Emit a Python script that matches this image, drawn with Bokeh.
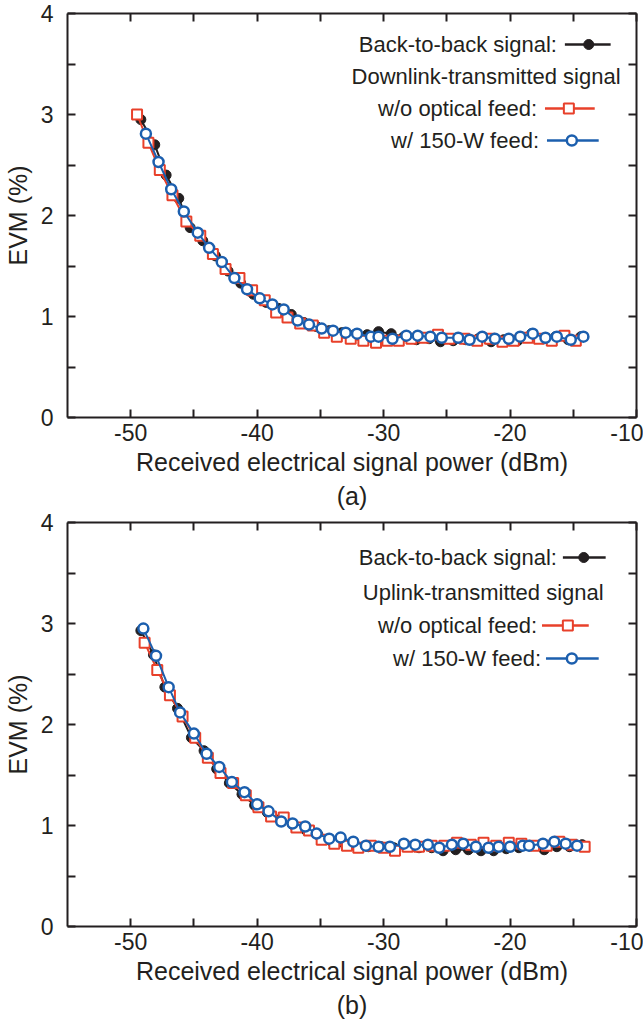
from bokeh.plotting import figure
from bokeh.layouts import column
from bokeh.models import Range1d, LinearAxis, FixedTicker, Title, Label
from bokeh.embed import file_html
from bokeh.resources import INLINE

# ---------------- data ----------------
a_b2b_x = [-49.2,-48.1,-47.2,-46.2,-45.3,-44.3,-43.3,-42.3,-41.3,-40.3,-39.3,-38.3,-37.3,-36.3,-35.3,-34.3,-33.3,-32.3,-31.3,-30.4,-29.4,-28.4,-27.4,-26.4,-25.5,-24.5,-23.5,-22.5,-21.5,-20.5,-19.4,-18.3,-17.4,-16.4,-15.4,-14.4]
a_b2b_y = [2.95,2.70,2.40,2.17,1.88,1.75,1.60,1.45,1.33,1.22,1.14,1.08,1.02,0.94,0.90,0.86,0.84,0.82,0.82,0.85,0.83,0.80,0.77,0.78,0.75,0.76,0.77,0.78,0.75,0.77,0.76,0.83,0.78,0.80,0.77,0.80]
a_red_x = [-49.5,-48.6,-47.7,-46.7,-45.6,-44.5,-43.5,-42.5,-41.4,-40.4,-39.4,-38.5,-37.6,-36.6,-35.6,-34.7,-33.7,-32.6,-31.6,-30.6,-29.7,-28.8,-27.8,-26.8,-25.7,-24.8,-23.6,-22.6,-21.6,-20.6,-19.7,-18.6,-17.7,-16.7,-15.7,-14.8]
a_red_y = [3.00,2.72,2.45,2.20,1.94,1.80,1.62,1.47,1.38,1.26,1.16,1.04,0.99,0.93,0.91,0.84,0.80,0.78,0.76,0.74,0.76,0.76,0.78,0.79,0.82,0.78,0.78,0.76,0.78,0.75,0.76,0.79,0.78,0.76,0.81,0.76]
a_blue_x = [-48.8,-47.8,-46.8,-45.8,-44.7,-43.8,-42.8,-41.8,-40.8,-39.8,-38.8,-37.9,-36.8,-35.9,-34.9,-34.0,-33.0,-32.1,-31.0,-30.4,-29.3,-28.2,-27.3,-26.3,-25.4,-24.1,-23.2,-22.2,-21.2,-20.1,-19.2,-18.2,-17.2,-16.3,-15.2,-14.2]
a_blue_y = [2.81,2.53,2.26,2.04,1.83,1.68,1.54,1.38,1.27,1.18,1.12,1.07,0.96,0.92,0.88,0.86,0.84,0.83,0.80,0.80,0.78,0.81,0.81,0.80,0.79,0.79,0.77,0.80,0.78,0.78,0.80,0.83,0.79,0.80,0.77,0.80]

b_b2b_x = [-49.2,-48.2,-47.3,-46.3,-45.2,-44.2,-43.2,-42.2,-41.2,-40.2,-39.2,-38.2,-37.2,-36.2,-35.2,-34.2,-33.2,-32.2,-31.2,-30.2,-29.2,-28.2,-27.2,-26.2,-25.3,-24.3,-23.3,-22.3,-21.3,-20.3,-19.3,-18.3,-17.3,-16.3,-15.3,-14.3]
b_b2b_y = [2.93,2.69,2.37,2.16,1.87,1.74,1.56,1.42,1.31,1.20,1.13,1.06,1.01,0.96,0.91,0.85,0.83,0.80,0.79,0.79,0.78,0.80,0.78,0.78,0.75,0.76,0.76,0.75,0.75,0.77,0.78,0.80,0.76,0.79,0.79,0.81]
b_red_x = [-48.9,-47.9,-46.9,-45.9,-44.9,-43.9,-42.9,-41.9,-40.9,-39.9,-38.9,-37.9,-36.9,-35.9,-34.9,-33.9,-32.9,-32.0,-31.0,-30.0,-29.1,-28.1,-27.2,-26.2,-25.2,-24.2,-23.1,-22.1,-21.1,-20.1,-19.1,-18.1,-17.1,-16.1,-15.1,-14.1]
b_red_y = [2.81,2.54,2.29,2.08,1.87,1.67,1.52,1.42,1.30,1.18,1.09,1.08,0.98,0.95,0.86,0.82,0.80,0.78,0.80,0.78,0.75,0.79,0.79,0.80,0.80,0.83,0.81,0.83,0.80,0.83,0.82,0.80,0.80,0.84,0.81,0.79]
b_blue_x = [-49.0,-48.0,-47.0,-46.1,-45.0,-44.0,-43.0,-42.0,-41.0,-40.0,-39.1,-38.1,-37.2,-36.2,-35.3,-34.3,-33.4,-32.4,-31.4,-30.4,-29.5,-28.4,-27.5,-26.5,-25.6,-24.6,-23.7,-22.7,-21.7,-20.9,-20.0,-19.0,-18.5,-17.4,-16.5,-15.6,-14.7]
b_blue_y = [2.95,2.68,2.37,2.12,1.91,1.71,1.58,1.43,1.33,1.21,1.14,1.04,1.02,0.99,0.92,0.87,0.88,0.84,0.80,0.79,0.79,0.82,0.81,0.81,0.78,0.81,0.82,0.79,0.78,0.79,0.79,0.80,0.80,0.82,0.84,0.82,0.80]

x_major = [-50, -40, -30, -20, -10]
x_major_labels = ["-50", "-40", "-30", "-20", "-10"]
x_minor = [-45, -35, -25, -15]
y_major = [0, 1, 2, 3, 4]
y_minor = [0.5, 1.5, 2.5, 3.5]

x_title = "Received electrical signal power (dBm)"
y_title = "EVM (%)"
leg_b2b = "Back-to-back signal:"
leg_wo = "w/o optical feed:"
leg_w = "w/ 150-W feed:"

INK = "#231f20"
RED = "#e8402a"
BLUE = "#1c5fae"
FONT = "Liberation Sans"


def make_panel(tag, header, b2b, red, blue, top_border, fig_height, leg_rows):
    p = figure(width=643, height=fig_height, output_backend="svg", toolbar_location=None,
               x_range=Range1d(-55, -10), y_range=Range1d(0, 4),
               min_border_left=64, min_border_right=7, min_border_top=top_border,
               min_border_bottom=10)
    p.xgrid.visible = False
    p.ygrid.visible = False
    p.outline_line_color = None
    p.background_fill_color = "white"
    p.border_fill_color = "white"

    def style(ax):
        ax.axis_line_color = INK
        ax.axis_line_width = 2
        ax.major_tick_line_color = INK
        ax.minor_tick_line_color = INK
        ax.major_tick_line_width = 2
        ax.minor_tick_line_width = 2
        ax.major_tick_in = 8
        ax.major_tick_out = 0
        ax.minor_tick_in = 8
        ax.minor_tick_out = 0
        ax.major_label_text_font = FONT
        ax.major_label_text_color = INK
        ax.major_label_text_font_size = "23px"
        ax.axis_label_text_font = FONT
        ax.axis_label_text_color = INK
        ax.axis_label_text_font_size = "25px"
        ax.axis_label_text_font_style = "normal"

    p.xaxis.ticker = FixedTicker(ticks=x_major, minor_ticks=x_minor)
    p.yaxis.ticker = FixedTicker(ticks=y_major, minor_ticks=y_minor)
    style(p.xaxis[0])
    style(p.yaxis[0])
    p.xaxis.major_label_overrides = dict(zip(x_major, x_major_labels))
    p.xaxis.axis_label = x_title
    p.yaxis.axis_label = y_title
    p.xaxis.major_label_standoff = 6
    p.xaxis.axis_label_standoff = 4
    p.yaxis.major_label_standoff = 14
    p.yaxis.axis_label_standoff = 6

    # tick-only axes on top and right (no labels: no major ticks, only "minor" ticks)
    top_ax = LinearAxis(ticker=FixedTicker(ticks=[], minor_ticks=x_major + x_minor))
    style(top_ax)
    top_ax.major_label_standoff = 0
    p.add_layout(top_ax, "above")
    right_ax = LinearAxis(ticker=FixedTicker(ticks=[], minor_ticks=y_major + y_minor))
    style(right_ax)
    right_ax.major_label_standoff = 0
    p.add_layout(right_ax, "right")

    t = Title(text=tag, align="center", text_font=FONT, text_font_size="25px",
              text_font_style="normal", text_color=INK, standoff=2)
    p.add_layout(t, "below")

    # data series
    bx, by = b2b
    rx, ry = red
    ux, uy = blue
    p.line(bx, by, line_color=INK, line_width=2)
    p.scatter(bx, by, marker="circle", size=10, fill_color=INK, line_color=INK)
    p.line(rx, ry, line_color=RED, line_width=2)
    p.scatter(rx, ry, marker="square", size=10, fill_color="white", line_color=RED, line_width=2)
    p.line(ux, uy, line_color=BLUE, line_width=2)
    p.scatter(ux, uy, marker="circle", size=10, fill_color="white", line_color=BLUE, line_width=2.5)

    # legend in frame-pixel coordinates (y downward from frame top)
    p.extra_x_ranges = {"lx": Range1d(0, 572)}
    p.extra_y_ranges = {"ly": Range1d(404, 0)}
    rows = [(leg_b2b, "b2b"), (header, None), (leg_wo, "red"), (leg_w, "blue")]
    for (txt, kind), (ty, tx_right, l0, l1, mk) in zip(rows, leg_rows):
        p.add_layout(Label(x=tx_right, y=ty, text=txt, x_range_name="lx", y_range_name="ly",
                           text_align="right", text_baseline="middle", text_font=FONT,
                           text_font_size="22px", text_color=INK))
        if kind == "b2b":
            p.line([l0, l1], [ty, ty], x_range_name="lx", y_range_name="ly", line_color=INK, line_width=2.5)
            p.scatter([mk], [ty], x_range_name="lx", y_range_name="ly", marker="circle", size=10,
                      fill_color=INK, line_color=INK)
        elif kind == "red":
            p.line([l0, l1], [ty, ty], x_range_name="lx", y_range_name="ly", line_color=RED, line_width=2.5)
            p.scatter([mk], [ty], x_range_name="lx", y_range_name="ly", marker="square", size=10,
                      fill_color="white", line_color=RED, line_width=2)
        elif kind == "blue":
            p.line([l0, l1], [ty, ty], x_range_name="lx", y_range_name="ly", line_color=BLUE, line_width=2.5)
            p.scatter([mk], [ty], x_range_name="lx", y_range_name="ly", marker="circle", size=10,
                      fill_color="white", line_color=BLUE, line_width=2.5)
    return p


# (text_y, text_right, line_start, line_end, marker_x) in frame pixels
rows_a = [(31, 492, 500, 546, 524), (63, 556, 0, 0, 0), (95, 472, 480, 530, 504), (127, 474, 482, 534, 507)]
rows_b = [(35, 492, 498, 541, 519), (70, 539, 0, 0, 0), (103, 472, 477, 524, 503), (136, 476, 481, 534, 507)]

pa = make_panel("(a)", "Downlink-transmitted signal", (a_b2b_x, a_b2b_y), (a_red_x, a_red_y),
                (a_blue_x, a_blue_y), 13, 510, rows_a)
pb = make_panel("(b)", "Uplink-transmitted signal", (b_b2b_x, b_b2b_y), (b_red_x, b_red_y),
                (b_blue_x, b_blue_y), 12, 509, rows_b)

layout = column(pa, pb, spacing=0)
open("out.html", "w").write(file_html(layout, INLINE))
